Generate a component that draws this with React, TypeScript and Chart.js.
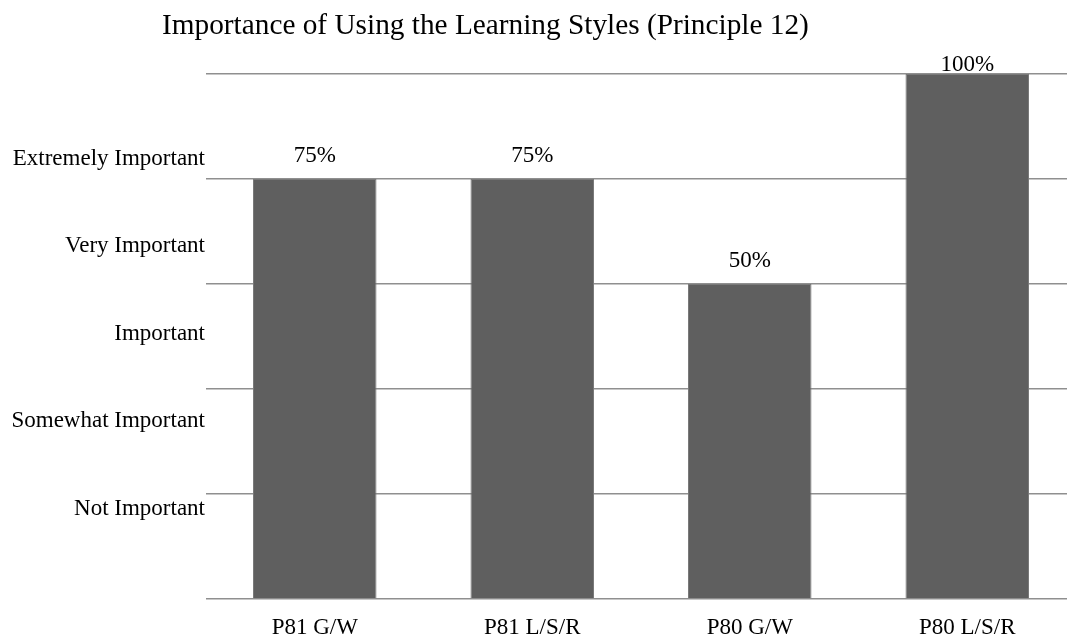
import React, { useEffect, useRef } from "react";
import { Chart, registerables } from "chart.js";

Chart.register(...registerables);

const chartTitle = "Importance of Using the Learning Styles (Principle 12)";
const categories = ["P81 G/W", "P81 L/S/R", "P80 G/W", "P80 L/S/R"];
const ratingValues = [4, 4, 3, 5];
const percentLabels = ["75%", "75%", "50%", "100%"];
const importanceLabels = [
  "Not Important",
  "Somewhat Important",
  "Important",
  "Very Important",
  "Extremely Important",
];

const FONT = "'Liberation Serif', 'Times New Roman', serif";

const titlePlugin = {
  id: "customTitle",
  afterDraw(chart: any) {
    const ctx = chart.ctx;
    ctx.save();
    ctx.font = `29.3px ${FONT}`;
    ctx.fillStyle = "#000";
    ctx.textAlign = "left";
    ctx.textBaseline = "alphabetic";
    ctx.fillText(chartTitle, 162, 34);
    ctx.restore();
  },
};

const valueLabelPlugin = {
  id: "valueLabels",
  afterDatasetsDraw(chart: any) {
    const ctx = chart.ctx;
    const meta = chart.getDatasetMeta(0);
    ctx.save();
    ctx.font = `23px ${FONT}`;
    ctx.fillStyle = "#000";
    ctx.textAlign = "center";
    ctx.textBaseline = "middle";
    meta.data.forEach((bar: any, i: number) => {
      const y = Math.max(bar.y - 23, chart.chartArea.top - 9);
      ctx.fillText(percentLabels[i], bar.x, y);
    });
    ctx.restore();
  },
};

export default function App() {
  const ref = useRef<HTMLCanvasElement>(null);

  useEffect(() => {
    if (!ref.current) return;
    const chart = new Chart(ref.current, {
      type: "bar",
      data: {
        labels: categories,
        datasets: [
          {
            data: ratingValues,
            backgroundColor: "#5f5f5f",
            borderColor: "#7a7a7a",
            borderWidth: 1,
            barPercentage: 0.568,
            categoryPercentage: 1,
          },
        ],
      },
      options: {
        responsive: false,
        animation: false,
        layout: { padding: { top: 74, left: 0, right: 0, bottom: 0 } },
        plugins: {
          legend: { display: false },
          title: { display: false },
          tooltip: { enabled: false },
        },
        scales: {
          x: {
            grid: { display: false, drawTicks: false },
            border: { display: false },
            ticks: {
              color: "#000",
              font: { family: FONT, size: 23 },
              padding: 15,
              maxRotation: 0,
            },
            afterFit(scale: any) {
              scale.height = 39;
            },
          },
          y: {
            position: "left",
            weight: 0,
            min: 0,
            max: 5,
            ticks: { display: false, stepSize: 1 },
            grid: { color: "#8f8f8f", lineWidth: 1.5, drawTicks: false },
            border: { display: false },
          },
          y2: {
            position: "left",
            weight: 1,
            min: 0,
            max: 6,
            grid: { display: false, drawTicks: false },
            border: { display: false },
            ticks: {
              stepSize: 1,
              color: "#000",
              padding: 1,
              labelOffset: -3,
              font: { family: FONT, size: 23 },
              callback: (v: any) => {
                const n = Number(v);
                return n >= 1 && n <= importanceLabels.length ? importanceLabels[n - 1] : "";
              },
            },
            afterFit(scale: any) {
              scale.width = 206;
            },
          },
        },
      },
      plugins: [titlePlugin, valueLabelPlugin],
    });
    return () => chart.destroy();
  }, []);

  return (
    <div
      style={{
        position: "fixed",
        left: 0,
        top: 0,
        width: 1067,
        height: 638,
        overflow: "hidden",
        background: "#fff",
      }}
    >
      <canvas ref={ref} width={1076} height={638} style={{ display: "block" }} />
    </div>
  );
}
